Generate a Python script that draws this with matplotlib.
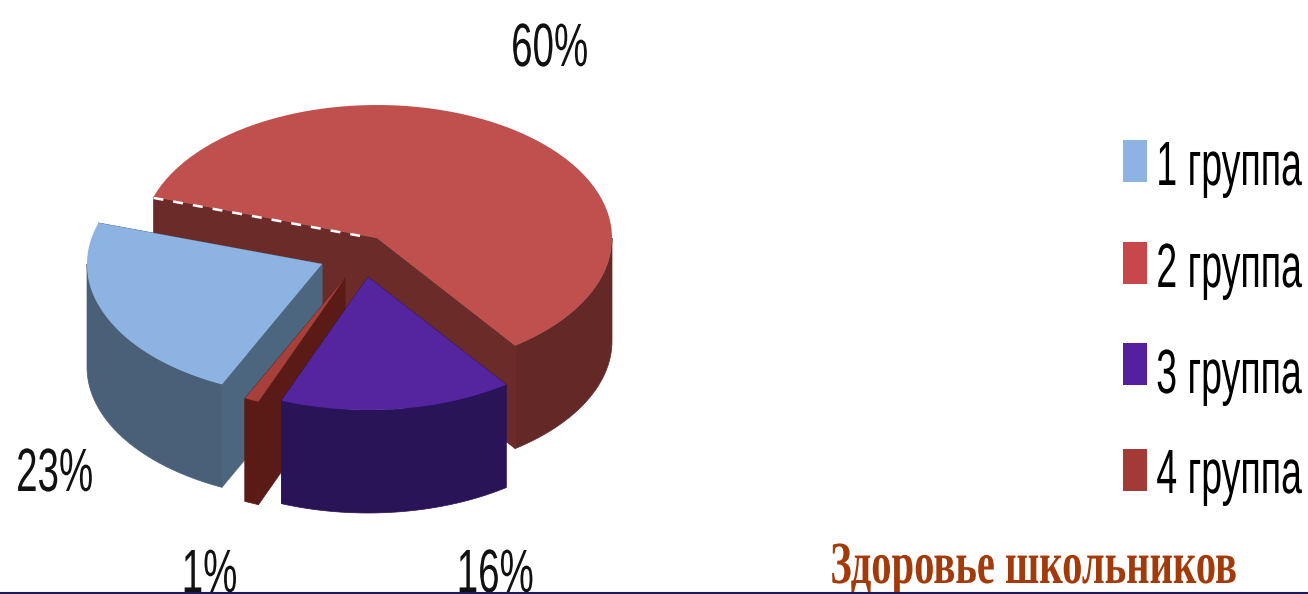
# 3D style exploded pie, drawn by hand because matplotlib has no pie3d

import numpy as np
import matplotlib
matplotlib.use('Agg')
import matplotlib.pyplot as plt
from matplotlib.patches import Polygon, Rectangle
from matplotlib.patheffects import AbstractPathEffect
from matplotlib.transforms import Affine2D

# Data
groups = ['1 группа', '2 группа', '3 группа', '4 группа']
shares = [23, 60, 16, 1]
labels = ['23%', '60%', '16%', '1%']
title = 'Здоровье школьников'

# Colours per group
top_colors = ['#8DB3E2', '#C0504D', '#55259F', '#A5403A']
wall_colors = ['#4A6078', '#642927', '#2A1458', '#5A1B16']
edge_colors = ['#4D667F', '#6B2B28', '#2A1458', '#5A1B16']
legend_colors = ['#8DB3E2', '#C8474A', '#55209F', '#A23A36']

# Pie geometry in pixels
rx, ry = 235, 133
depth = 103
start_angle = 162
centers = {0: (322, 264), 1: (377, 238), 2: (368, 277), 3: (345, 278)}
draw_order = [1, 0, 3, 2]
order_round = [1, 2, 3, 0]   # clockwise order round the pie


# The reference font is very narrow and no condensed face is installed,
# so squeeze the glyphs sideways at draw time and keep them as text
class Squeeze(AbstractPathEffect):
    def __init__(self, sx, anchor=0.5):
        super().__init__()
        self.sx = sx
        self.anchor = anchor

    def draw_path(self, renderer, gc, tpath, affine, rgbFace=None):
        box = tpath.get_extents(affine)
        x0 = box.x0 + self.anchor * box.width
        squeeze = Affine2D().translate(-x0, 0).scale(self.sx, 1).translate(x0, 0)
        renderer.draw_path(gc, tpath, affine + squeeze, rgbFace)


fig = plt.figure(figsize=(13.08, 5.94), dpi=100)
ax = fig.add_axes([0, 0, 1, 1])
ax.set_xlim(0, 1308)
ax.set_ylim(594, 0)
ax.axis('off')

# Angles of each slice
angles = {}
a = start_angle
for i in order_round:
    sweep = shares[i] / sum(shares) * 360
    angles[i] = (a, a - sweep)
    a -= sweep


def arc(cx, cy, t1, t2, dy=0):
    t = np.radians(np.linspace(t1, t2, 80))
    return np.column_stack([cx + rx * np.cos(t), cy - ry * np.sin(t) + dy])


for i in draw_order:
    cx, cy = centers[i]
    t1, t2 = angles[i]
    pts = arc(cx, cy, t1, t2)

    # radial walls first
    for p in [pts[0], pts[-1]]:
        quad = [(cx, cy), p, (p[0], p[1] + depth), (cx, cy + depth)]
        ax.add_patch(Polygon(quad, closed=True, fc=edge_colors[i], ec=edge_colors[i],
                             lw=0.5, zorder=1))

    # outer wall, only where it faces the viewer
    t_lo, t_hi = min(t1, t2), max(t1, t2)
    for k in range(-1, 1):
        lo = max(t_lo, -180 + 360 * k)
        hi = min(t_hi, 360 * k)
        if hi > lo:
            upper = arc(cx, cy, lo, hi)
            lower = arc(cx, cy, hi, lo, dy=depth)
            ax.add_patch(Polygon(np.vstack([upper, lower]), closed=True,
                                 fc=wall_colors[i], ec=wall_colors[i], lw=0.5, zorder=1))

    # top of the slice
    ax.add_patch(Polygon(np.vstack([[(cx, cy)], pts]), closed=True,
                         fc=top_colors[i], ec='none', zorder=1))

    # white dashes along the back edge of the big slice
    if i == 1:
        end = pts[0] + 0.93 * (np.array([cx, cy]) - pts[0])
        ax.plot([pts[0][0], end[0]], [pts[0][1] + 1, end[1] + 1], color='white', lw=1.8,
                dashes=(4, 4), zorder=2)

# Percent labels
label_pos = [(15, 491), (510, 66), (455, 592), (180, 592)]
for txt, (x, y) in zip(labels, label_pos):
    ax.text(x, y, txt, fontsize=44, family='Liberation Sans', color='#111111',
            ha='left', va='baseline', zorder=3, path_effects=[Squeeze(0.63, anchor=0)])

# Legend
legend_y = [161, 263, 364, 470]
legend_base = [185, 287, 393, 493]
for g, c, y, b in zip(groups, legend_colors, legend_y, legend_base):
    ax.add_patch(Rectangle((1123, y - 21), 24, 42, fc=c, ec='none', zorder=3))
    ax.text(1302, b, g, fontsize=45, family='Liberation Sans', color='black',
            ha='right', va='baseline', zorder=3, path_effects=[Squeeze(0.6, anchor=1)])

ax.text(1034, 583, title, fontsize=43, family='Liberation Serif', weight='bold',
        color='#A33A0A', ha='center', va='baseline', zorder=3,
        path_effects=[Squeeze(0.68)])

# Line along the bottom
ax.plot([0, 1308], [592.5, 592.5], color='#1B1B5A', lw=1.5, zorder=4)

fig.savefig('out.png', dpi=100)
